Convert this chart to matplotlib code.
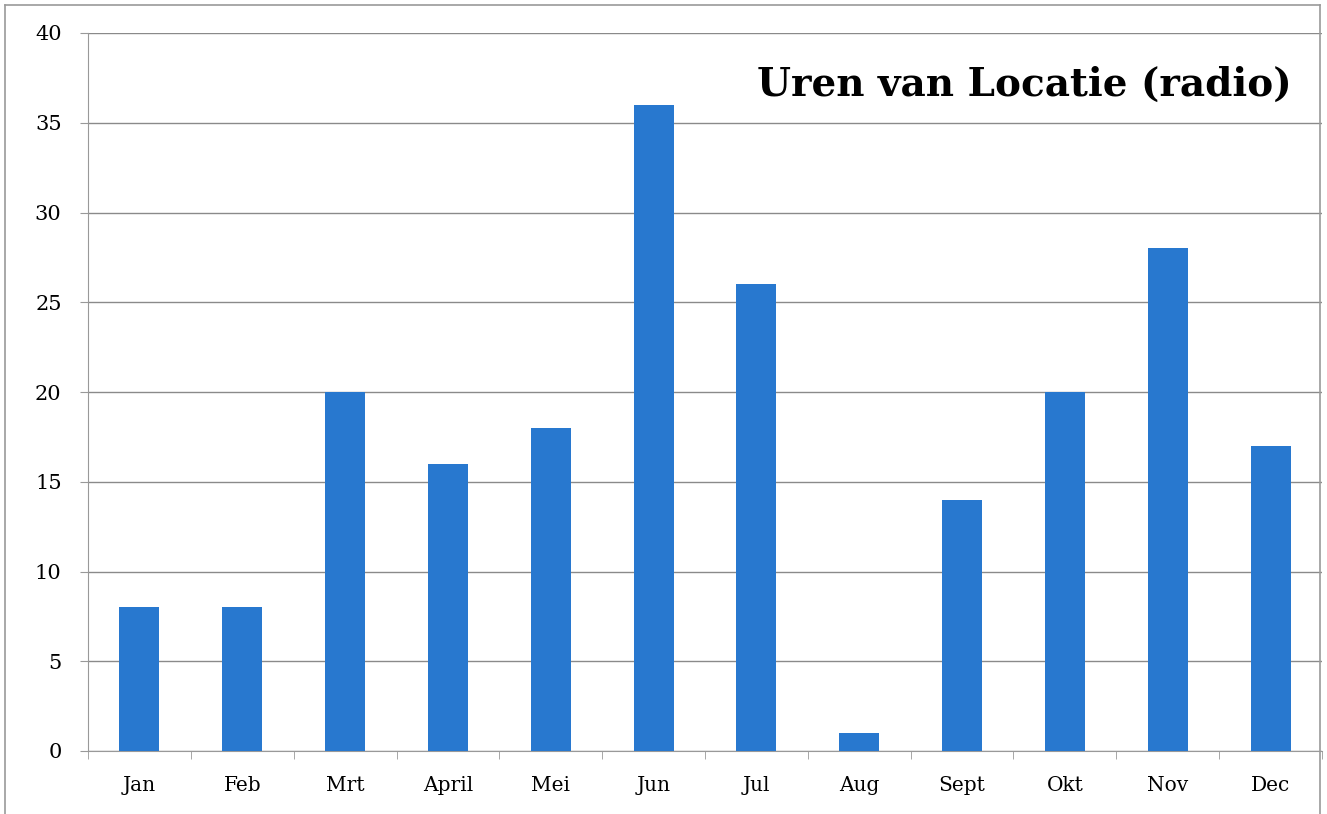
import matplotlib.pyplot as plt
import numpy as np
from matplotlib.lines import Line2D

# Data
maanden = ['Jan', 'Feb', 'Mrt', 'April', 'Mei', 'Jun', 'Jul', 'Aug', 'Sept', 'Okt', 'Nov', 'Dec']
uren = [8, 8, 20, 16, 18, 36, 26, 1, 14, 20, 28, 17]
y_ticks = [0, 5, 10, 15, 20, 25, 30, 35, 40]

W, H = 1327, 814
fig = plt.figure(figsize=(W / 100, H / 100), dpi=100)
ax = fig.add_axes([88 / W, 1 - 751 / H, (1322 - 88) / W, (751 - 33) / H])

x = np.arange(len(maanden))
ax.bar(x, uren, width=0.39, color='#2878CF', zorder=3)

ax.set_xlim(-0.5, len(maanden) - 0.5)
ax.set_ylim(0, 40)
ax.set_yticks(y_ticks)
ax.set_yticklabels([str(v) for v in y_ticks], fontsize=15, family='DejaVu Serif')
ax.set_xticks(x)
ax.set_xticklabels(maanden, fontsize=14.5, family='DejaVu Serif')
ax.tick_params(axis='x', length=0, pad=18)
ax.set_xticks(np.arange(-0.5, len(maanden)), minor=True)
ax.tick_params(axis='x', which='minor', length=6, color='#999999', direction='out')
ax.tick_params(axis='y', length=6, color='#999999', pad=13)

ax.grid(axis='y', color='#8a8a8a', linewidth=1.0, zorder=0)
for s in ['top', 'right']:
    ax.spines[s].set_visible(False)
ax.spines['left'].set_color('#999999')
ax.spines['bottom'].set_color('#999999')

ax.text(0.9757, 37.1, 'Uren van Locatie (radio)', transform=ax.get_yaxis_transform(),
        ha='right', va='center', fontsize=28, fontweight='bold', family='DejaVu Serif')

# kader rond de grafiek
kleur = '#9a9a9a'
fig.add_artist(Line2D([5 / W, 5 / W], [0, 1 - 5 / H], color=kleur, lw=1.2))
fig.add_artist(Line2D([5 / W, 1320 / W], [1 - 5 / H, 1 - 5 / H], color=kleur, lw=1.2))
fig.add_artist(Line2D([1320 / W, 1320 / W], [0, 1 - 5 / H], color=kleur, lw=1.2))

fig.savefig('out.png', dpi=100)
